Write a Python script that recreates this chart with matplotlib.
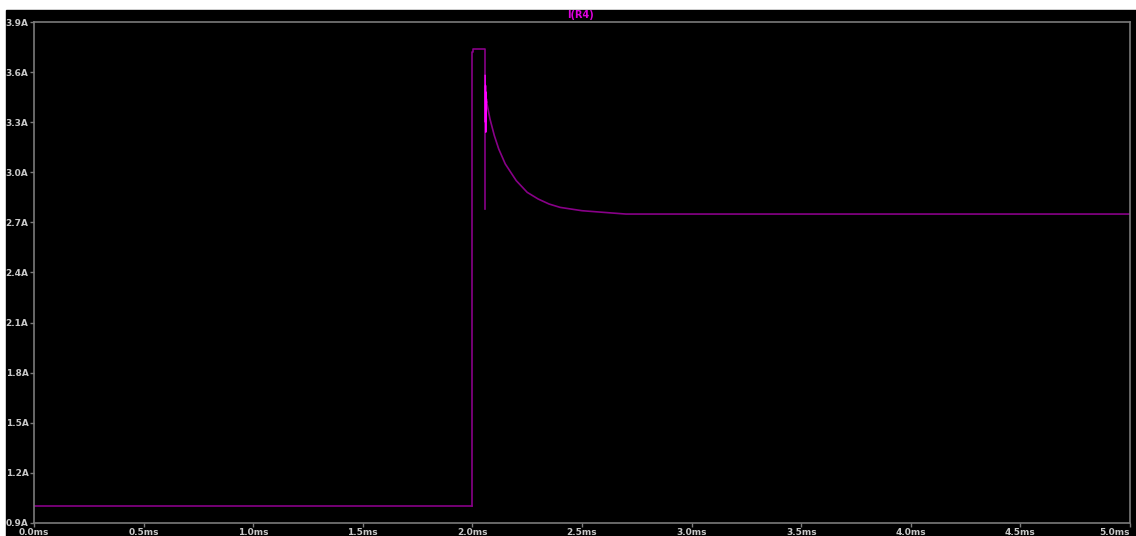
import matplotlib.pyplot as plt
from matplotlib.patches import Rectangle

# I(R4) transient, values (ms, A)
t_base = [0.0, 2.0]
i_base = [1.0, 1.0]

# pulse: jump at 2.0ms, flat top, drop near 2.057ms
t_pulse = [2.0, 2.0, 2.003, 2.003, 2.057, 2.057]
i_pulse = [1.0, 3.72, 3.72, 3.74, 3.74, 2.78]

# switching spike right after the drop (bright trace)
t_spike = [2.058, 2.059, 2.060, 2.061, 2.062, 2.063, 2.064, 2.065]
i_spike = [3.58, 3.30, 3.52, 3.24, 3.48, 3.36, 3.44, 3.42]

# settle back to steady state
t_decay = [2.065, 2.08, 2.10, 2.12, 2.15, 2.20, 2.25, 2.30, 2.35, 2.40,
           2.50, 2.60, 2.70, 3.0, 4.0, 5.0]
i_decay = [3.42, 3.32, 3.22, 3.14, 3.05, 2.95, 2.88, 2.84, 2.81, 2.79,
           2.77, 2.76, 2.75, 2.75, 2.75, 2.75]

x_ticks = [0.0, 0.5, 1.0, 1.5, 2.0, 2.5, 3.0, 3.5, 4.0, 4.5, 5.0]
y_ticks = [0.9, 1.2, 1.5, 1.8, 2.1, 2.4, 2.7, 3.0, 3.3, 3.6, 3.9]

W, H = 1136, 536
fig = plt.figure(figsize=(W / 100, H / 100), dpi=100, facecolor="white")
fig.patches.append(Rectangle((6 / W, 0), 1 - 6 / W, (H - 10) / H,
                             transform=fig.transFigure, color="black",
                             zorder=-10))

ax = fig.add_axes([34 / W, 13 / H, (1130 - 34) / W, (523 - 22) / H])
ax.set_facecolor("black")

trace = "#880088"
ax.plot(t_base, i_base, color=trace, lw=1.2)
ax.plot(t_pulse, i_pulse, color=trace, lw=1.2)
ax.plot(t_decay, i_decay, color=trace, lw=1.2)
ax.plot(t_spike, i_spike, color="#ff00ff", lw=1.0)

ax.set_xlim(0, 5.0)
ax.set_ylim(0.9, 3.9)
ax.set_xticks(x_ticks)
ax.set_yticks(y_ticks)
ax.set_xticklabels([f"{v:.1f}ms" for v in x_ticks])
ax.set_yticklabels([f"{v:.1f}A" for v in y_ticks])

for s in ax.spines.values():
    s.set_color("#7a7a7a")
    s.set_linewidth(1.2)
ax.tick_params(colors="#7a7a7a", length=3, width=1, pad=1)
ax.tick_params(axis="x", pad=0.5)
for lbl in ax.get_xticklabels() + ax.get_yticklabels():
    lbl.set_color("#c8c8c8")
    lbl.set_fontsize(6.5)
    lbl.set_fontweight("bold")
# last x label would run off the right edge
ax.get_xticklabels()[-1].set_ha("right")

fig.text(580 / W, 1 - 15 / H, "I(R4)", color="#dd00dd", fontsize=7,
         fontweight="bold", ha="center", va="center")

fig.savefig("out.png", dpi=100, facecolor=fig.get_facecolor())
